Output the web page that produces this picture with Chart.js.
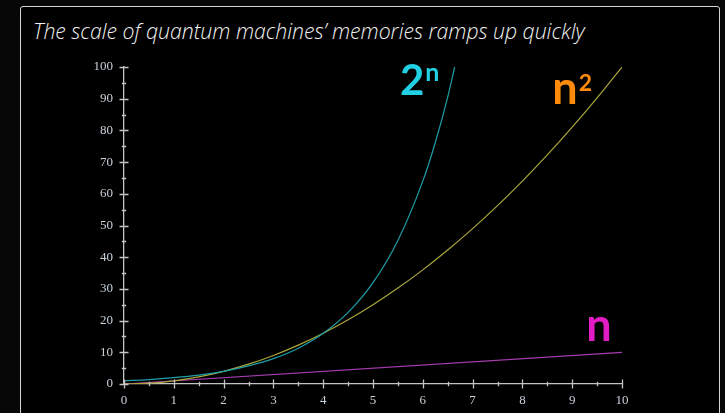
<!DOCTYPE html>
<html>
<head>
<meta charset="utf-8">
<script src="https://cdn.jsdelivr.net/npm/chart.js@4.4.1/dist/chart.umd.min.js"></script>
<style>
  body { margin: 0; background: #070707; }
  #wrap { position: relative; width: 725px; height: 413px; overflow: hidden; }
  #frame { position: absolute; left: 20px; top: 6px; width: 698px; height: 480px;
           border: 1.5px solid #d6d6d6; border-radius: 3px; background: #000; }
  #title { position: absolute; left: 33px; top: 16px; color: #f2f2f2;
           font-family: "Open Sans", sans-serif; font-style: italic; font-weight: 300;
           font-size: 21.2px; white-space: nowrap; }
  canvas { position: absolute; left: 0; top: 0; }
</style>
</head>
<body>
<div id="wrap">
  <div id="frame"></div>
  <div id="title">The scale of quantum machines’ memories ramps up quickly</div>
  <canvas id="ch" width="725" height="413"></canvas>
</div>
<script>
// values
var expX = [0, 0.5, 1, 1.5, 2, 2.5, 3, 3.5, 4, 4.5, 5, 5.5, 6, 6.25, 6.5, 6.64];
var expY = [1, 1.4, 2, 2.8, 4, 5.7, 8, 11.3, 16, 22.6, 32, 45.3, 64, 76.1, 90.5, 100];
var sqX = [0, 0.5, 1, 1.5, 2, 2.5, 3, 3.5, 4, 4.5, 5, 5.5, 6, 6.5, 7, 7.5, 8, 8.5, 9, 9.5, 10];
var sqY = [0, 0.25, 1, 2.25, 4, 6.25, 9, 12.25, 16, 20.25, 25, 30.25, 36, 42.25, 49, 56.25, 64, 72.25, 81, 90.25, 100];
var linX = [0, 10];
var linY = [0, 10];
var xTicks = [0, 1, 2, 3, 4, 5, 6, 7, 8, 9, 10];
var yTicks = [0, 10, 20, 30, 40, 50, 60, 70, 80, 90, 100];

function pts(xs, ys) {
  return xs.map(function (x, i) { return { x: x, y: ys[i] }; });
}

// crossing major / minor tick marks
var tickMarks = {
  id: 'tickMarks',
  afterDraw: function (chart) {
    var ctx = chart.ctx, xs = chart.scales.x, ys = chart.scales.y;
    var a = chart.chartArea;
    ctx.save();
    ctx.strokeStyle = '#c4c4c4';
    ctx.lineWidth = 1.3;
    ctx.beginPath();
    xs.ticks.forEach(function (t) {
      var px = Math.round(xs.getPixelForValue(t.value)) + 0.5;
      var len = xTicks.indexOf(t.value) >= 0 ? 4.5 : 2.2;
      ctx.moveTo(px, a.bottom - len);
      ctx.lineTo(px, a.bottom + len);
    });
    ys.ticks.forEach(function (t) {
      var py = Math.round(ys.getPixelForValue(t.value)) + 0.5;
      var len = yTicks.indexOf(t.value) >= 0 ? 4.5 : 2.2;
      ctx.moveTo(a.left - len, py);
      ctx.lineTo(a.left + len, py);
    });
    ctx.stroke();
    ctx.restore();
  }
};

// big curve labels
var curveLabels = {
  id: 'curveLabels',
  afterDraw: function (chart) {
    var ctx = chart.ctx, xs = chart.scales.x, ys = chart.scales.y;
    var items = [
      { base: '2', sup: 'n', x: 5.54, y: 91.2, color: '#22d0e4', size: 42, supSize: 25, rise: 14 },
      { base: 'n', sup: '2', x: 8.6, y: 88.3, color: '#ff8a0c', size: 45, supSize: 23, rise: 13 },
      { base: 'n', sup: '', x: 9.28, y: 13.6, color: '#e21cc4', size: 45, supSize: 0, rise: 0 }
    ];
    ctx.save();
    ctx.textBaseline = 'alphabetic';
    ctx.textAlign = 'left';
    items.forEach(function (it) {
      var px = xs.getPixelForValue(it.x), py = ys.getPixelForValue(it.y);
      ctx.fillStyle = it.color;
      ctx.font = 'bold ' + it.size + 'px Lato, "Noto Sans", sans-serif';
      ctx.fillText(it.base, px, py);
      var w = ctx.measureText(it.base).width;
      if (it.sup) {
        ctx.font = 'bold ' + it.supSize + 'px Lato, "Noto Sans", sans-serif';
        ctx.fillText(it.sup, px + w + 1, py - it.rise);
      }
    });
    ctx.restore();
  }
};

var tickFont = { family: '"Liberation Serif", "DejaVu Serif", serif', size: 13 };

new Chart(document.getElementById('ch').getContext('2d'), {
  type: 'line',
  data: {
    datasets: [
      { label: '2^n', data: pts(expX, expY), borderColor: '#1f9ea6', borderWidth: 1.2,
        pointRadius: 0, cubicInterpolationMode: 'monotone' },
      { label: 'n^2', data: pts(sqX, sqY), borderColor: '#aaa63a', borderWidth: 1.2,
        pointRadius: 0, cubicInterpolationMode: 'monotone' },
      { label: 'n', data: pts(linX, linY), borderColor: '#a63cb0', borderWidth: 1.2,
        pointRadius: 0 }
    ]
  },
  options: {
    responsive: false,
    animation: false,
    layout: { padding: { left: 84, right: 103, top: 67, bottom: 7 } },
    plugins: { legend: { display: false }, tooltip: { enabled: false } },
    scales: {
      x: {
        type: 'linear', min: 0, max: 10,
        afterFit: function (s) { s.height = 22; },
        grid: { display: false, drawTicks: false },
        border: { display: true, color: '#c4c4c4', width: 1.3 },
        ticks: {
          stepSize: 0.5, autoSkip: false, maxRotation: 0, padding: 9,
          color: '#c8d0d8', font: tickFont,
          callback: function (v) { return xTicks.indexOf(v) >= 0 ? String(v) : ''; }
        }
      },
      y: {
        min: 0, max: 100,
        afterFit: function (s) { s.width = 40; },
        grid: { display: false, drawTicks: false },
        border: { display: true, color: '#c4c4c4', width: 1.3 },
        ticks: {
          stepSize: 5, autoSkip: false, padding: 11,
          color: '#c8d0d8', font: tickFont,
          callback: function (v) { return yTicks.indexOf(v) >= 0 ? String(v) : ''; }
        }
      }
    }
  },
  plugins: [tickMarks, curveLabels]
});
</script>
</body>
</html>
